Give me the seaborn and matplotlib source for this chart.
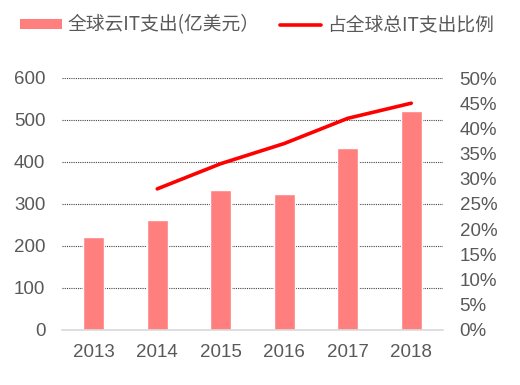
import numpy as np
import pandas as pd
import matplotlib
matplotlib.use("Agg")
import matplotlib.pyplot as plt
import matplotlib.ticker as mticker
from matplotlib.patches import Patch
from matplotlib.lines import Line2D
import seaborn as sns

# data
years = ["2013", "2014", "2015", "2016", "2017", "2018"]
cloud_spend = [222, 263, 333, 325, 433, 522]          # 亿美元
cloud_share = [np.nan, 28, 33, 37, 42, 45]            # %

bar_label = "全球云IT支出(亿美元）"
line_label = "占全球总IT支出比例"

sns.set_theme(style="white")
plt.rcParams["font.family"] = ["Liberation Sans", "Noto Sans CJK SC", "DejaVu Sans"]

text_color = "#595959"
bar_color = "#FF7F7F"
line_color = "#FF0000"

df = pd.DataFrame({"year": years, "spend": cloud_spend, "share": cloud_share})
df["pos"] = np.arange(len(df))

fig = plt.figure(figsize=(5.2, 3.85), dpi=100)
ax = fig.add_axes([62 / 520, 1 - 330 / 385, (443 - 62) / 520, (330 - 78) / 385])

sns.barplot(data=df, x="year", y="spend", color=bar_color, width=0.33,
            saturation=1, ax=ax, zorder=3)
ax.set_xlim(-0.5, len(years) - 0.5)
ax.set_ylim(0, 600)
ax.set_yticks(range(0, 601, 100))
ax.set_xlabel("")
ax.set_ylabel("")
ax.grid(axis="y", linestyle=(0, (1, 1)), color="#444444", linewidth=0.8, zorder=0)
for s in ["top", "left", "right"]:
    ax.spines[s].set_visible(False)
ax.spines["bottom"].set_color("#D9D9D9")
ax.spines["bottom"].set_linewidth(1.2)
ax.spines["bottom"].set_zorder(4)
ax.tick_params(axis="y", length=0, pad=12, labelsize=13.5, labelcolor=text_color)
ax.tick_params(axis="x", length=0, pad=10, labelsize=13.5, labelcolor=text_color)

ax2 = ax.twinx()
line_df = df.dropna(subset=["share"])
sns.lineplot(data=line_df, x="pos", y="share", color=line_color, linewidth=2.6,
             ax=ax2, zorder=5)
ax2.set_ylim(0, 50)
ax2.set_yticks(range(0, 51, 5))
ax2.yaxis.set_major_formatter(mticker.FuncFormatter(lambda v, p: f"{v:.0f}%"))
ax2.set_ylabel("")
ax2.grid(False)
for s in ["top", "left", "right", "bottom"]:
    ax2.spines[s].set_visible(False)
ax2.tick_params(axis="y", length=0, pad=12, labelsize=13.5, labelcolor=text_color)
ax2.set_xlim(-0.5, len(years) - 0.5)

handles = [Patch(facecolor=bar_color, edgecolor="none"),
           Line2D([0], [0], color=line_color, linewidth=2.6)]
leg = fig.legend(handles, [bar_label, line_label], loc="center",
                 bbox_to_anchor=(0.494, 0.935), ncol=2, frameon=False,
                 handlelength=2.2, handleheight=0.45,
                 handletextpad=0.3, columnspacing=1.1,
                 prop={"family": ["Noto Sans CJK SC", "DejaVu Sans"], "size": 13.5})
for t in leg.get_texts():
    t.set_color(text_color)

fig.savefig("out.png", dpi=100)
